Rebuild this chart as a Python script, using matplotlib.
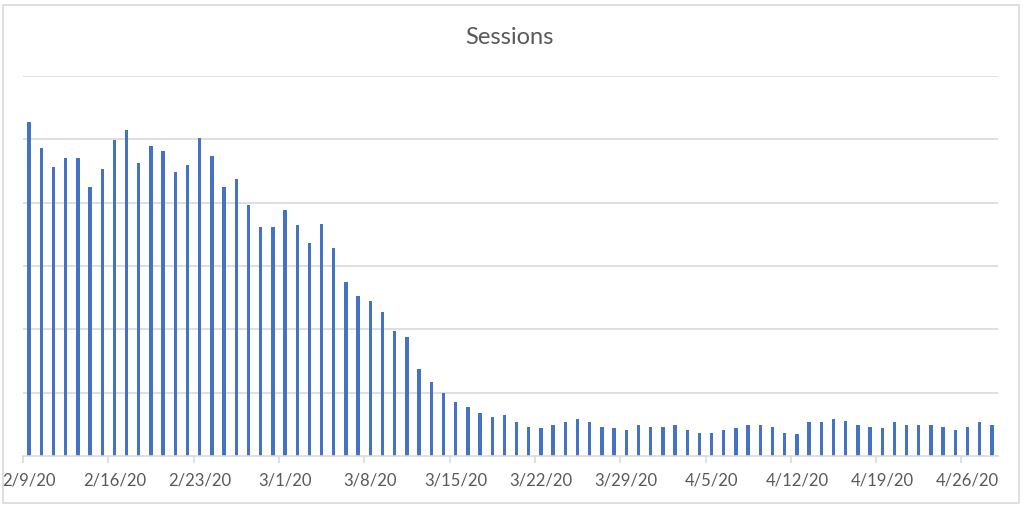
import numpy as np
import matplotlib.pyplot as plt
from matplotlib.patches import Rectangle

# daily sessions, 2/9/20 .. 4/28/20 (axis units = gridline steps, no scale shown)
sessions = [
    5.27, 4.86, 4.56, 4.71, 4.71, 4.25, 4.53, 4.99, 5.14, 4.62,
    4.89, 4.81, 4.49, 4.59, 5.02, 4.74, 4.25, 4.37, 3.97, 3.61,
    3.61, 3.88, 3.64, 3.36, 3.66, 3.29, 2.74, 2.53, 2.44, 2.28,
    1.97, 1.88, 1.38, 1.17, 0.99, 0.86, 0.77, 0.68, 0.62, 0.65,
    0.53, 0.46, 0.44, 0.49, 0.53, 0.59, 0.53, 0.46, 0.44, 0.41,
    0.49, 0.46, 0.46, 0.49, 0.41, 0.37, 0.37, 0.41, 0.44, 0.49,
    0.49, 0.46, 0.37, 0.34, 0.53, 0.53, 0.59, 0.56, 0.49, 0.46,
    0.44, 0.53, 0.49, 0.49, 0.49, 0.46, 0.41, 0.46, 0.53, 0.49,
]
tick_labels = ["2/9/20", "2/16/20", "2/23/20", "3/1/20", "3/8/20", "3/15/20",
               "3/22/20", "3/29/20", "4/5/20", "4/12/20", "4/19/20", "4/26/20"]

grey = "#d9d9d9"
text_grey = "#595959"

fig = plt.figure(figsize=(10.24, 5.09), dpi=100)
ax = fig.add_axes([23 / 1024, 53 / 509, 975 / 1024, 380 / 509])

x = np.arange(len(sessions))
ax.bar(x, sessions, width=0.28, color="#4472C4", zorder=3)

ax.set_xlim(-0.5, len(sessions) - 0.5)
ax.set_ylim(0, 6)
ax.set_yticks(range(1, 7))
ax.set_yticklabels([])
ax.tick_params(axis="y", length=0)
ax.grid(axis="y", color=grey, linewidth=1.2, zorder=0)

label_pos = np.arange(0, len(sessions), 7)[:len(tick_labels)]
ax.set_xticks(label_pos)
ax.set_xticklabels(tick_labels, fontsize=12, color=text_grey, family="Lato")
ax.tick_params(axis="x", which="major", length=0, pad=12)
ax.set_xticks(label_pos - 0.5, minor=True)
ax.tick_params(axis="x", which="minor", length=5, color=grey, width=1.2)

for side in ["top", "right", "left"]:
    ax.spines[side].set_visible(False)
ax.spines["bottom"].set_color(grey)
ax.spines["bottom"].set_linewidth(1.2)
ax.spines["bottom"].set_zorder(4)

fig.text(509 / 1024, 1 - 37 / 509, "Sessions", ha="center", va="center",
         fontsize=17, color=text_grey, family="Lato")

# light frame around the chart area
fig.patches.append(Rectangle((3 / 1024, 6 / 509), 1016 / 1024, 498 / 509,
                             transform=fig.transFigure, fill=False,
                             edgecolor=grey, linewidth=1.2))

fig.savefig("out.png", dpi=100)
